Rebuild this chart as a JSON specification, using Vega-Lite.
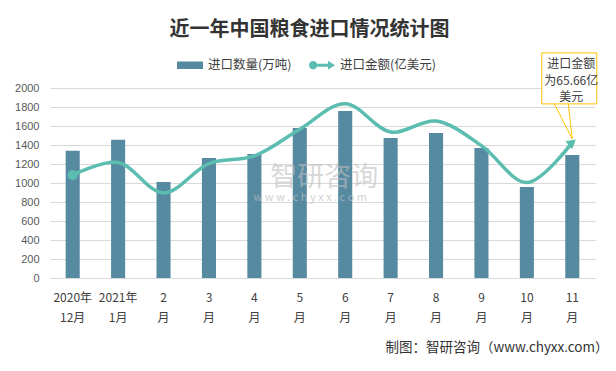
{
  "$schema": "https://vega.github.io/schema/vega-lite/v6.json",
  "width": 545,
  "height": 190,
  "autosize": "none",
  "padding": {"left": 50, "top": 88, "right": 21, "bottom": 93},
  "background": "white",
  "config": {
    "font": "Noto Sans CJK SC",
    "view": {"stroke": null}
  },
  "title": {
    "text": "近一年中国粮食进口情况统计图",
    "fontSize": 20,
    "fontWeight": "bold",
    "color": "#333333",
    "font": "Noto Sans CJK SC",
    "anchor": "middle",
    "dx": -13,
    "offset": 12
  },
  "data": {
    "values": [
      {"m": "2020年|12月", "q": 1340, "a": 49.9},
      {"m": "2021年|1月", "q": 1455, "a": 55.9},
      {"m": "2|月", "q": 1010, "a": 41.2},
      {"m": "3|月", "q": 1263, "a": 55.4},
      {"m": "4|月", "q": 1305, "a": 59.1},
      {"m": "5|月", "q": 1579, "a": 72.0},
      {"m": "6|月", "q": 1758, "a": 84.4},
      {"m": "7|月", "q": 1474, "a": 70.7},
      {"m": "8|月", "q": 1526, "a": 76.0},
      {"m": "9|月", "q": 1368, "a": 64.1},
      {"m": "10|月", "q": 958, "a": 46.2},
      {"m": "11|月", "q": 1295, "a": 65.66}
    ]
  },
  "encoding": {
    "x": {
      "field": "m",
      "type": "nominal",
      "sort": null,
      "scale": {"paddingInner": 0.69, "paddingOuter": 0.345},
      "axis": {
        "labelExpr": "split(datum.value, '|')",
        "labelAngle": 0,
        "labelFontSize": 12,
        "labelLineHeight": 20,
        "labelPadding": 14,
        "labelColor": "#404040",
        "domainColor": "#d9d9d9",
        "ticks": false,
        "grid": false,
        "title": "制图：智研咨询（www.chyxx.com）",
        "titleFontSize": 13.5,
        "titleFontWeight": "normal",
        "titleColor": "#333333",
        "titleAnchor": "end",
        "titleAlign": "right",
        "titleBaseline": "middle",
        "titleX": 558,
        "titleY": 69
      }
    }
  },
  "layer": [
    {
      "layer": [
        {
          "mark": {"type": "bar"},
          "encoding": {
            "y": {
              "field": "q",
              "type": "quantitative",
              "scale": {"domain": [0, 2000], "nice": false},
              "axis": {
                "values": [0, 200, 400, 600, 800, 1000, 1200, 1400, 1600, 1800, 2000],
                "format": "d",
                "title": null,
                "domain": false,
                "ticks": false,
                "gridColor": "#d9d9d9",
                "labelPadding": 11,
                "labelFontSize": 11,
                "labelColor": "#595959",
                "labelFont": "Liberation Sans",
                "labelOverlap": false
              }
            },
            "color": {
              "datum": "进口数量(万吨)",
              "type": "nominal",
              "scale": {"domain": ["进口数量(万吨)", "进口金额(亿美元)"], "range": ["#568aa0", "#5bbdb0"]},
              "legend": {
                "orient": "none",
                "legendX": 127,
                "legendY": -36,
                "direction": "horizontal",
                "title": null,
                "padding": 0,
                "symbolSize": 676,
                "labelFontSize": 12.5,
                "labelColor": "#404040",
                "labelOffset": 5,
                "columnPadding": 16,
                "encode": {
                  "symbols": {
                    "update": {
                      "shape": {"signal": "datum.value === '进口数量(万吨)' ? 'M-1,-0.29H1V0.29H-1Z' : 'M-1,0a0.32,0.32 0 1,0 0.64,0a0.32,0.32 0 1,0 -0.64,0ZM-0.36,-0.115H0.46V0.115H-0.36ZM0.46,-0.35L1,0L0.46,0.35Z'"},
                      "fill": {"signal": "datum.value === '进口数量(万吨)' ? '#568aa0' : '#5bbdb0'"},
                      "strokeWidth": {"value": 0},
                      "opacity": {"value": 1}
                    }
                  }
                }
              }
            }
          }
        }
      ]
    },
    {
      "layer": [
        {
          "mark": {"type": "line", "interpolate": "catmull-rom", "strokeWidth": 3.5, "color": "#5bbdb0"},
          "encoding": {
            "y": {"field": "a", "type": "quantitative", "scale": {"domain": [0, 92], "nice": false, "zero": true}, "axis": null},
            "color": {"datum": "进口金额(亿美元)", "type": "nominal"}
          }
        },
        {
          "data": {"values": [{"w": "智研咨询"}]},
          "mark": {"type": "text", "fontSize": 27, "color": "#bfbfbf", "opacity": 0.6, "dx": -21},
          "encoding": {
            "x": {"datum": "6|月"},
            "y": {"datum": 48.3, "type": "quantitative"},
            "text": {"field": "w"}
          }
        },
        {
          "data": {"values": [{"w": "w w w . c h y x x . c o m"}]},
          "mark": {"type": "text", "fontSize": 11, "color": "#bfbfbf", "opacity": 0.7, "dx": -35},
          "encoding": {
            "x": {"datum": "6|月"},
            "y": {"datum": 38.6, "type": "quantitative"},
            "text": {"field": "w"}
          }
        },
        {
          "transform": [{"filter": "datum.m === '2020年|12月'"}],
          "mark": {"type": "point", "filled": true, "size": 100, "color": "#5bbdb0", "opacity": 1},
          "encoding": {
            "y": {"field": "a", "type": "quantitative"}
          }
        },
        {
          "transform": [{"filter": "datum.m === '11|月'"}],
          "mark": {"type": "point", "shape": "triangle-up", "filled": true, "size": 110, "angle": 50, "color": "#5bbdb0", "opacity": 1},
          "encoding": {
            "y": {"field": "a", "type": "quantitative"}
          }
        },
        {
          "data": {"values": [{"k": "pointer"}]},
          "mark": {"type": "rule", "color": "#ffc000", "strokeWidth": 1, "xOffset": -18, "x2Offset": 0},
          "encoding": {
            "x": {"datum": "11|月"},
            "x2": {"datum": "11|月"},
            "y": {"datum": 84.3, "type": "quantitative"},
            "y2": {"datum": 67.3}
          }
        },
        {
          "data": {"values": [{"k": "pointer"}]},
          "mark": {"type": "rule", "color": "#ffc000", "strokeWidth": 1, "xOffset": -4, "x2Offset": 0},
          "encoding": {
            "x": {"datum": "11|月"},
            "x2": {"datum": "11|月"},
            "y": {"datum": 84.3, "type": "quantitative"},
            "y2": {"datum": 67.3}
          }
        },
        {
          "data": {"values": [{"k": "box"}]},
          "mark": {"type": "bar", "width": 55, "fill": "white", "stroke": "#ffc000", "strokeWidth": 1, "xOffset": -3},
          "encoding": {
            "x": {"datum": "11|月"},
            "y": {"datum": 109, "type": "quantitative"},
            "y2": {"datum": 84.3}
          }
        },
        {
          "data": {"values": [{"t1": "进口金额", "t2": "为65.66亿", "t3": "美元"}]},
          "transform": [{"calculate": "[datum.t1, datum.t2, datum.t3]", "as": "t"}],
          "mark": {"type": "text", "fontSize": 12, "color": "#404040", "lineHeight": 16.5, "baseline": "middle", "dx": -1},
          "encoding": {
            "x": {"datum": "11|月"},
            "y": {"datum": 103.6, "type": "quantitative"},
            "text": {"field": "t"}
          }
        }
      ]
    }
  ],
  "resolve": {"scale": {"y": "independent"}}
}
